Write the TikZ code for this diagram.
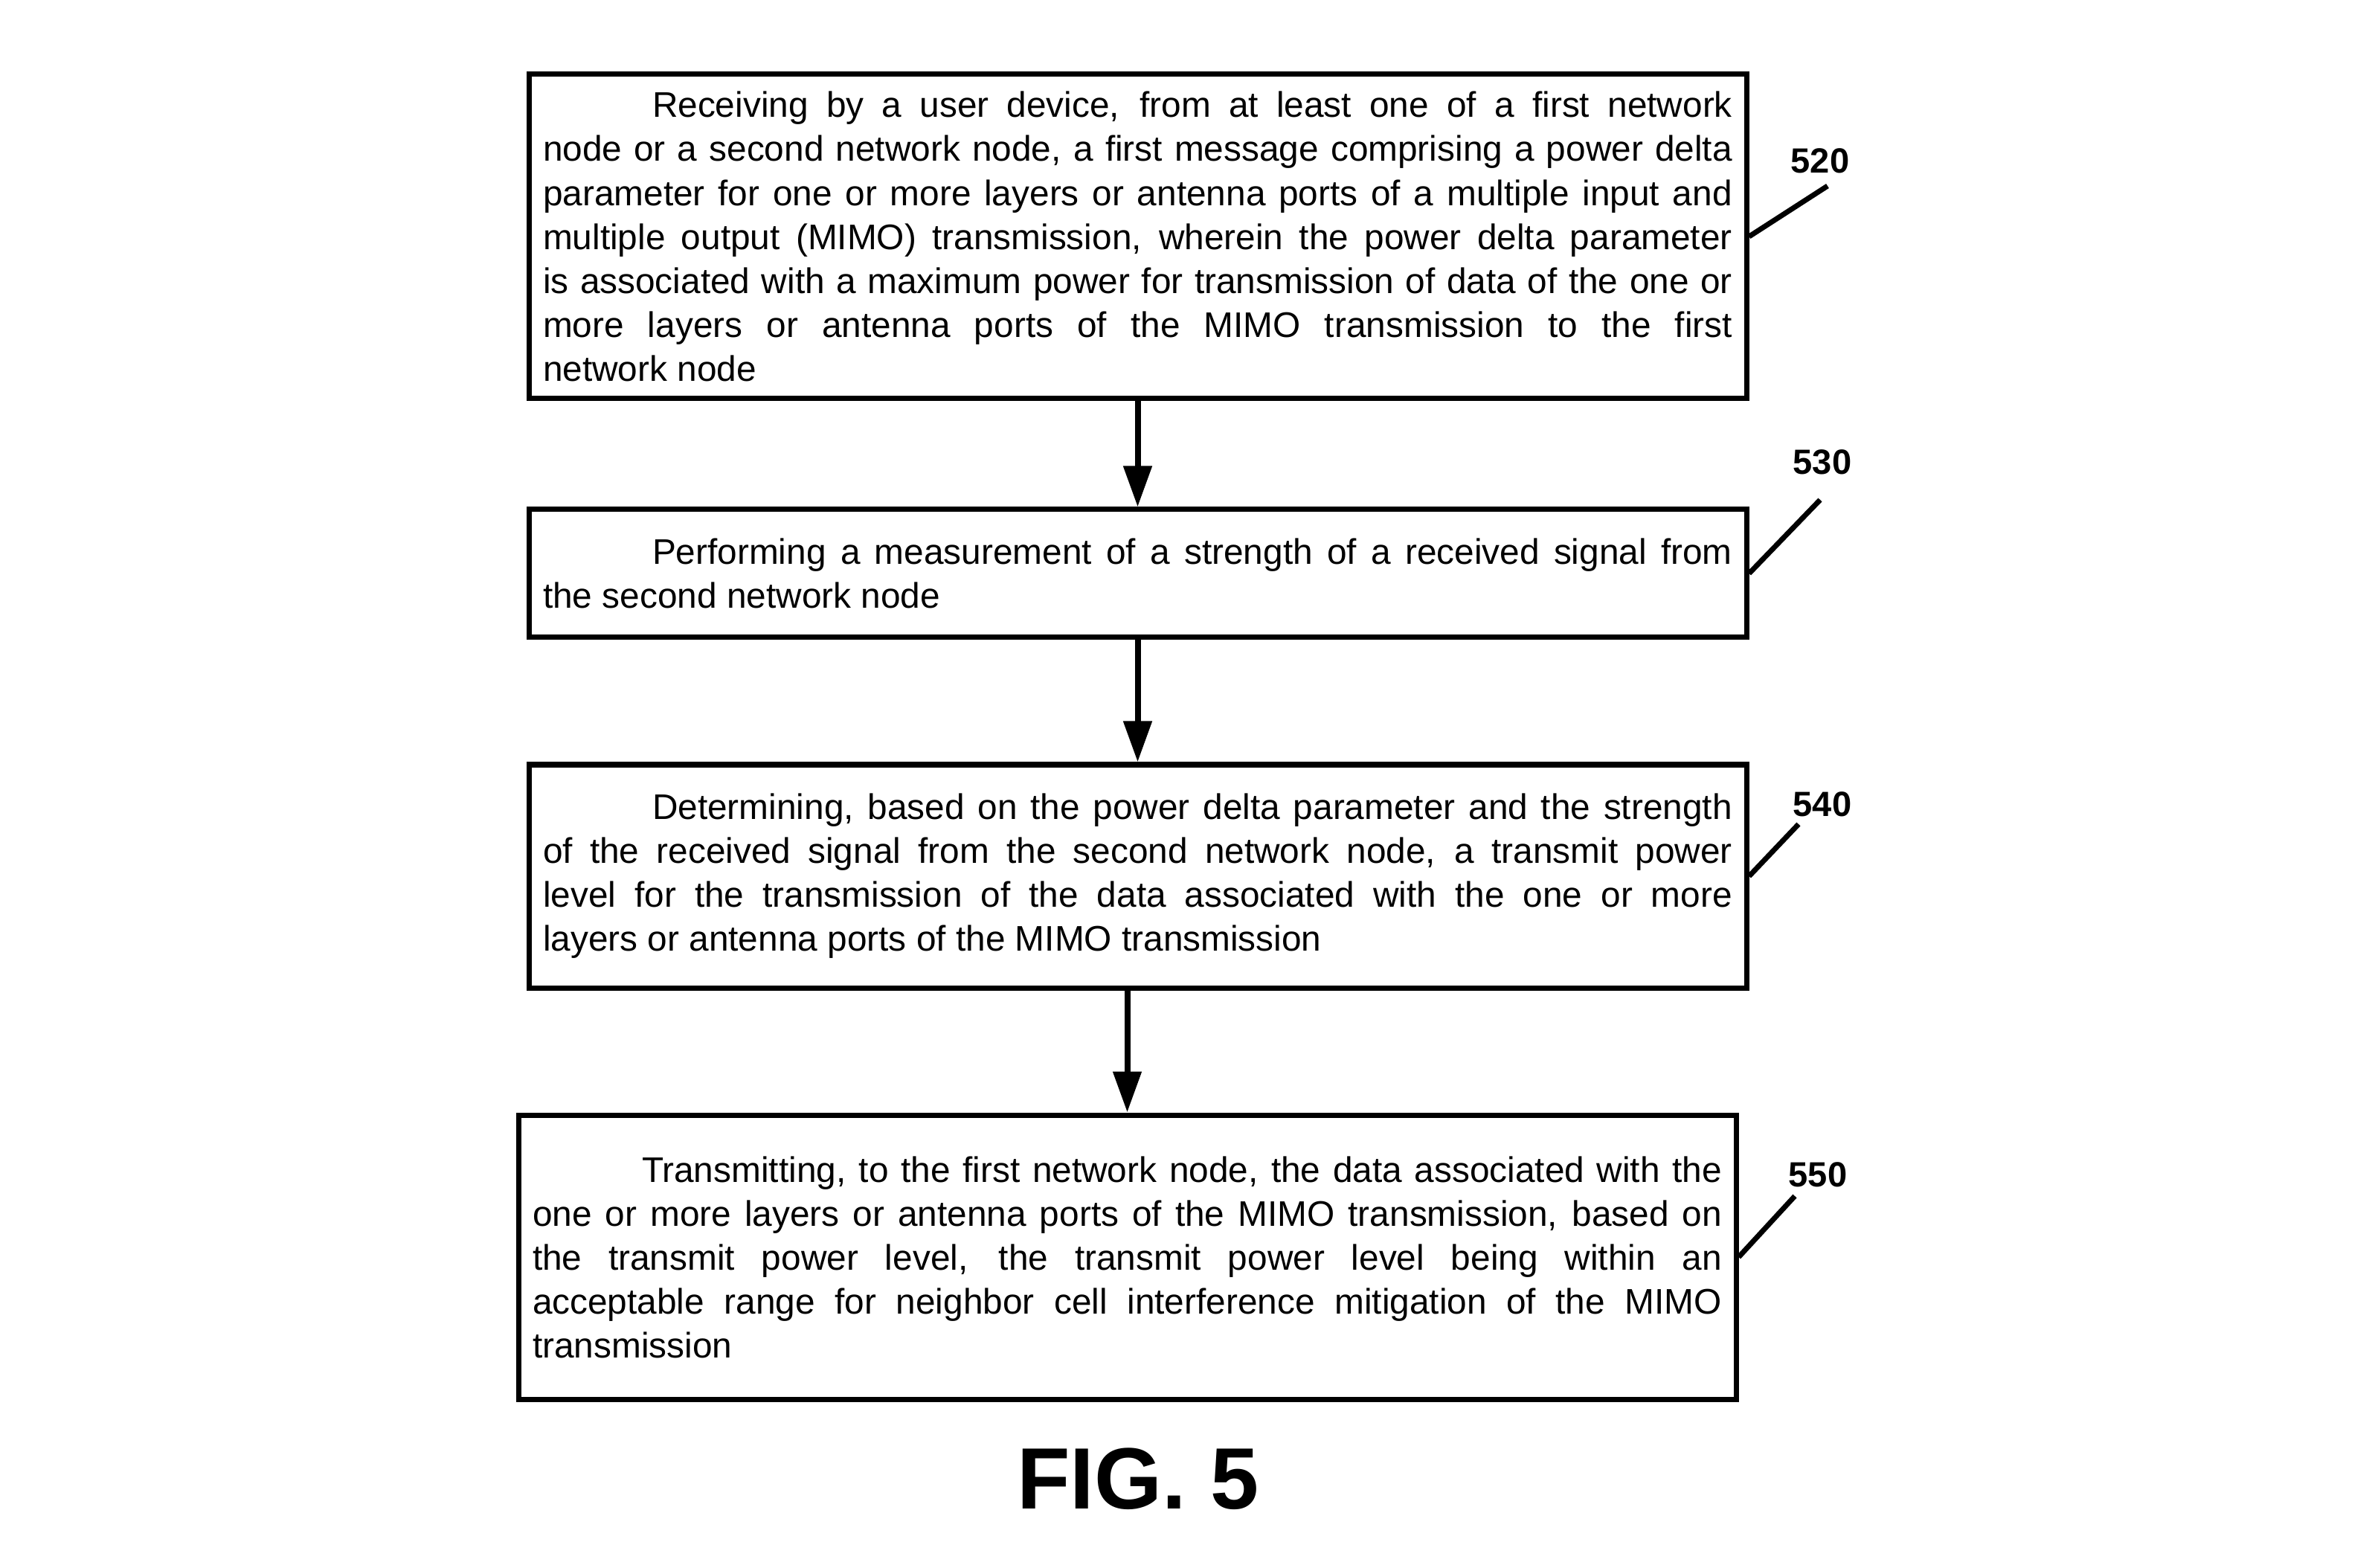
\documentclass[tikz,border=0pt]{standalone}
\usepackage{fontspec}
\setmainfont{Liberation Sans}
\usetikzlibrary{arrows.meta}
\tolerance=10000
\hyphenpenalty=10000
\hbadness=10000
\tikzset{
    step box/.style={
        draw, rectangle, line width=0.07cm,
        text width=15.99cm, inner xsep=0.19cm, inner ysep=0.1cm,
        align=justify,
        font=\fontsize{13.6pt}{16.8pt}\selectfont
    },
    flow arrow/.style={
        line width=0.08cm, -{Triangle[length=0.55cm, width=0.37cm]}
    },
    ref line/.style={line width=0.07cm},
    ref label/.style={
        anchor=base, inner sep=0pt,
        font=\fontsize{13.4pt}{16pt}\selectfont\bfseries
    }
}

\begin{document}
\begin{tikzpicture}

\useasboundingbox (0,0) rectangle (31.89,-21.08);

% Pasos del diagrama
\node[step box, minimum height=4.36cm] (recv) at (15.295,-3.18) {\hspace*{1.47cm}Receiving by a user device, from at least one of a first network\linebreak
node or a second network node, a first message comprising a power delta\linebreak
parameter for one or more layers or antenna ports of a multiple input and\linebreak
multiple output (MIMO) transmission, wherein the power delta parameter\linebreak
is associated with a maximum power for transmission of data of the one or\linebreak
more layers or antenna ports of the MIMO transmission to the first\linebreak
network node};

\node[step box, minimum height=1.72cm] (meas) at (15.295,-7.71) {\hspace*{1.47cm}Performing a measurement of a strength of a received signal from\linebreak
the second network node};

\node[step box, minimum height=3.00cm] (detm) at (15.295,-11.78) {\hspace*{1.47cm}Determining, based on the power delta parameter and the strength\linebreak
of the received signal from the second network node, a transmit power\linebreak
level for the transmission of the data associated with the one or more\linebreak
layers or antenna ports of the MIMO transmission};

\node[step box, minimum height=3.82cm] (send) at (15.155,-16.90) {\hspace*{1.47cm}Transmitting, to the first network node, the data associated with the\linebreak
one or more layers or antenna ports of the MIMO transmission, based on\linebreak
the transmit power level, the transmit power level being within an\linebreak
acceptable range for neighbor cell interference mitigation of the MIMO\linebreak
transmission};

% Flechas entre los pasos
\draw[flow arrow] (recv.south) -- (meas.north);
\draw[flow arrow] (meas.south) -- (detm.north);
\draw[flow arrow] (send.north |- detm.south) -- (send.north);

% Numeros de referencia con su linea
\coordinate (t520) at (24.57,-2.50);
\coordinate (t530) at (24.47,-6.72);
\coordinate (t540) at (24.18,-11.08);
\coordinate (t550) at (24.13,-16.08);

\node[ref label] (n520) at (24.47,-2.33) {520};
\node[ref label] (n530) at (24.50,-6.38) {530};
\node[ref label] (n540) at (24.50,-10.97) {540};
\node[ref label] (n550) at (24.44,-15.95) {550};

\draw[ref line] (recv.east) -- (t520);
\draw[ref line] (meas.east) -- (t530);
\draw[ref line] (detm.east) -- (t540);
\draw[ref line] (send.east) -- (t550);

\node[anchor=base, font=\fontsize{33.3pt}{36pt}\selectfont\bfseries] (fig) at (15.30,-20.28) {FIG. 5};

\end{tikzpicture}
\end{document}
